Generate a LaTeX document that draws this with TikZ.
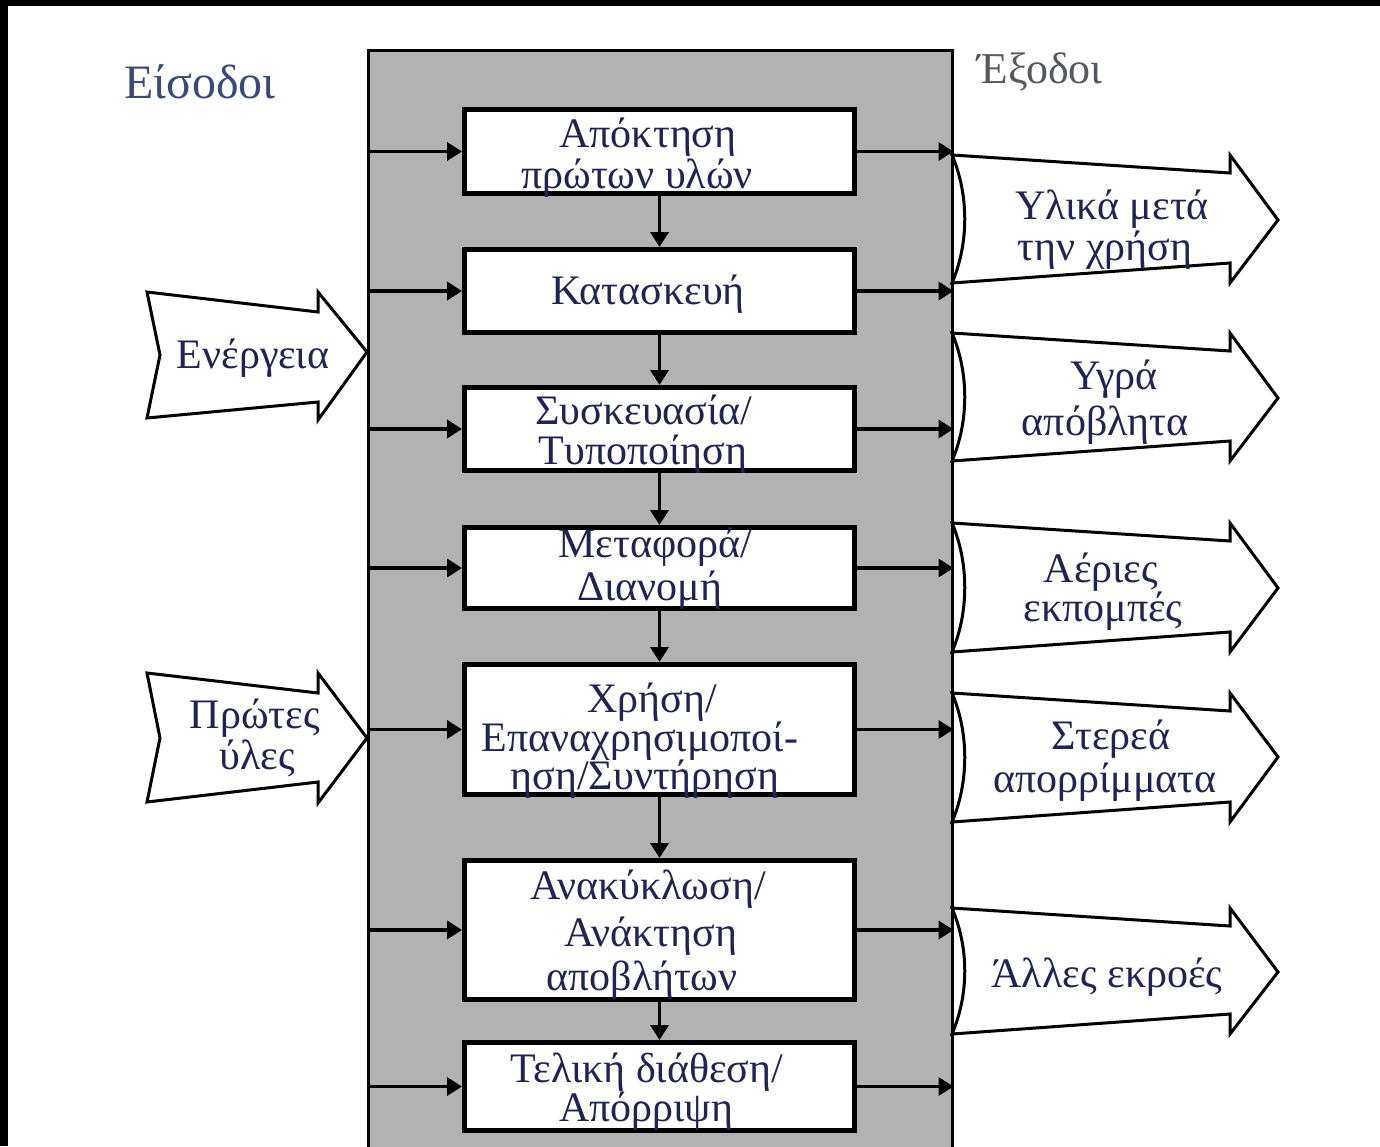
\documentclass[tikz,border=0pt]{standalone}
\usepackage{fontspec}
\setmainfont{Liberation Serif}
\usetikzlibrary{arrows.meta}
\definecolor{txt}{HTML}{1F2452}
\definecolor{frm}{HTML}{B2B2B2}
\definecolor{ttl}{HTML}{3A4A78}
\definecolor{ttlb}{HTML}{55585F}
\tikzset{
  stagebox/.style={draw=black, line width=5pt, fill=white, minimum width=390pt, inner sep=0pt},
  lbl/.style={text=txt, font=\fontsize{42}{42}\selectfont, inner sep=0pt, anchor=base},
  flow/.style={line width=3.5pt, -{Triangle[length=15pt,width=18pt]}},
  bigarrow/.style={draw=black, line width=3pt, fill=white, line join=miter},
  framebox/.style={draw=black, line width=3pt, fill=frm, minimum width=584pt, minimum height=1200pt, inner sep=0pt},
}
\newcommand\outshape[3]{%
  \draw[bigarrow] (952,#1) -- (1230,#1+18) -- (1230,#1) -- (1278,#3) -- (1230,#2) -- (1230,#2-20) -- (952,#2)
    .. controls (969,#2-40) and (969,#1+40) .. (952,#1) -- cycle;}
\begin{document}
\begin{tikzpicture}[x=1pt,y=-1pt]
\clip (0,0) rectangle (1380,1146);
\fill[white] (0,0) rectangle (1380,1146);
\fill[black] (0,0) rectangle (1380,6);
\fill[black] (0,0) rectangle (8,1146);

% main frame
\node[framebox] (frame) at (660,650) {};

% titles
\node[text=ttl, font=\fontsize{48}{48}\selectfont, inner sep=0pt, anchor=base] (inTitle) at (200,98) {Είσοδοι};
\node[text=ttlb, font=\fontsize{44}{44}\selectfont, inner sep=0pt, anchor=base] (outTitle) at (1040,83) {Έξοδοι};

% input big arrows
\draw[bigarrow] (147,292) -- (318,312) -- (318,292) -- (367,352) -- (318,420) -- (318,402) -- (147,418) -- (160,355) -- cycle;
\node[lbl] (inE) at (253,368) {Ενέργεια};
\draw[bigarrow] (147,673) -- (318,693) -- (318,673) -- (367,738) -- (318,803) -- (318,782) -- (147,802) -- (160,738) -- cycle;
\node[lbl] (inPa) at (255,728) {Πρώτες};
\node[lbl] (inPb) at (257,769) {ύλες};

% output big arrows
\outshape{155}{283}{220}
\node[lbl] (o1a) at (1112,219) {Υλικά μετά};
\node[lbl] (o1b) at (1105,260) {την χρήση};
\outshape{333}{461}{398}
\node[lbl] (o2a) at (1114,389) {Υγρά};
\node[lbl] (o2b) at (1105,435) {απόβλητα};
\outshape{523}{652}{588}
\node[lbl] (o3a) at (1101,582) {Αέριες};
\node[lbl] (o3b) at (1103,621) {εκπομπές};
\outshape{693}{822}{757}
\node[lbl] (o4a) at (1111,749) {Στερεά};
\node[lbl] (o4b) at (1105,792) {απορρίμματα};
\outshape{908}{1034}{972}
\node[lbl] (o5) at (1107,987) {Άλλες εκροές};

% stage boxes
\node[stagebox, minimum height=84pt] (b1) at (659.5,151.5) {};
\node[stagebox, minimum height=83pt] (b2) at (659.5,291) {};
\node[stagebox, minimum height=83pt] (b3) at (659.5,429) {};
\node[stagebox, minimum height=81pt] (b4) at (659.5,568) {};
\node[stagebox, minimum height=130pt] (b5) at (659.5,729.5) {};
\node[stagebox, minimum height=139pt] (b6) at (659.5,930) {};
\node[stagebox, minimum height=88pt] (b7) at (659.5,1086.5) {};

% connectors
\foreach \b in {b1,b2,b3,b4,b5,b6,b7}{
  \draw[flow] (frame.west |- \b.west) -- (\b.west);
  \draw[flow] (\b.east) -- (frame.east |- \b.east);
}
\draw[flow] (b1.south) -- (b2.north);
\draw[flow] (b2.south) -- (b3.north);
\draw[flow] (b3.south) -- (b4.north);
\draw[flow] (b4.south) -- (b5.north);
\draw[flow] (b5.south) -- (b6.north);
\draw[flow] (b6.south) -- (b7.north);

% box texts
\node[lbl] (t1a) at (648,147) {Απόκτηση};
\node[lbl] (t1b) at (637,188) {πρώτων υλών};
\node[lbl] (t2) at (648,304) {Κατασκευή};
\node[lbl] (t3a) at (644,424) {Συσκευασία/};
\node[lbl] (t3b) at (643,464) {Τυποποίηση};
\node[lbl] (t4a) at (655,557) {Μεταφορά/};
\node[lbl] (t4b) at (650,600) {Διανομή};
\node[lbl] (t5a) at (652,712) {Χρήση/};
\node[lbl] (t5b) at (640,751) {Επαναχρησιμοποί-};
\node[lbl] (t5c) at (645,789) {ηση/Συντήρηση};
\node[lbl] (t6a) at (648,899) {Ανακύκλωση/};
\node[lbl] (t6b) at (651,946) {Ανάκτηση};
\node[lbl] (t6c) at (642,990) {αποβλήτων};
\node[lbl] (t7a) at (647,1082) {Τελική διάθεση/};
\node[lbl] (t7b) at (646,1121) {Απόρριψη};
\end{tikzpicture}
\end{document}
